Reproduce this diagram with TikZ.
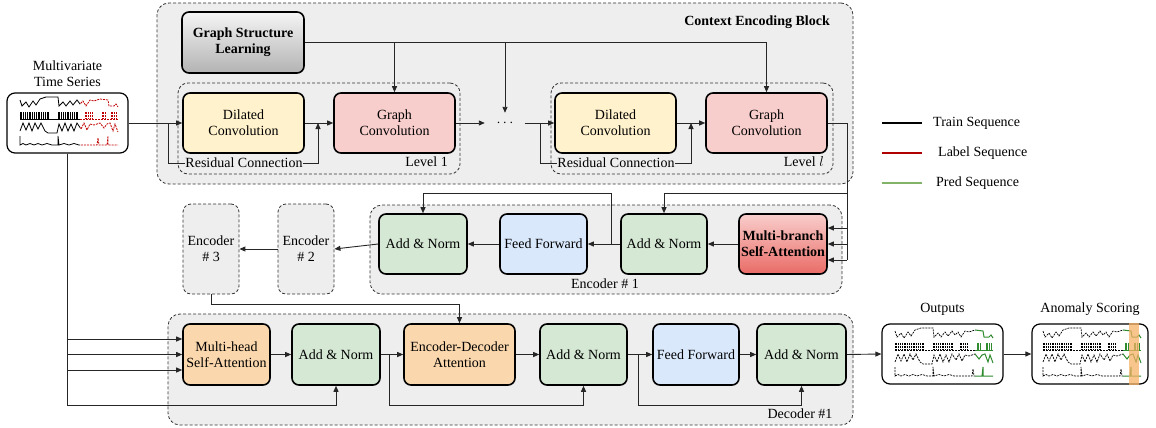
\documentclass[tikz,border=0pt]{standalone}
\usepackage{fontspec}
\setmainfont{Liberation Serif}
\usetikzlibrary{arrows.meta,calc}
\definecolor{cgray}{HTML}{EEEEEE}
\definecolor{cyel}{HTML}{FFF2CC}
\definecolor{cpink}{HTML}{F8CECC}
\definecolor{cred}{HTML}{EA6B66}
\definecolor{cgreen}{HTML}{D5E8D4}
\definecolor{cblue}{HTML}{DAE8FC}
\definecolor{corange}{HTML}{FAD7AC}
\definecolor{clabel}{HTML}{B00000}
\definecolor{cpred}{HTML}{82B366}
\definecolor{cgout}{HTML}{2E8B2E}
\definecolor{cband}{HTML}{F5B165}
\newcommand\tscurves[1]{%
  \draw[#1] plot coordinates {(13,7)(15,13)(19,9)(22,14)(26,8)(29,12)(33,6)(39,4)(51,4)(52,13)(56,9)(59,13)(63,8)(66,12)(70,7)(73,11)(76,8)(79,13)(83,7)(87,8)(93,6)(101,7)(102,13)(107,13)(109,11)(111,14)};
  \draw[#1] (13,26) -- (111,26);
  \foreach \x in {13,14.8,...,43,51,52.8,...,72,78,79.8,...,87,95,96.8,...,100,104,105.8,...,111} \draw[#1] (\x,19) -- (\x,26);
  \draw[#1] plot coordinates {(13,38)(16,30)(19,37)(22,30)(25,38)(28,30)(31,36)(34,30)(38,38)(41,40)(50,40)(52,31)(55,38)(58,30)(61,38)(64,31)(67,38)(70,30)(74,36)(77,30)(80,37)(83,31)(87,32)(93,30)(97,35)(100,31)(103,30)(106,38)(108,31)(111,39)};
  \draw[#1] plot coordinates {(13,43)(13,52)(16,50.5)(19,52)(23,50.5)(27,52)(31,50.5)(35,52)(40,50.5)(45,52)(51,52)(51,43)(52,52)(57,50.5)(62,52)(67,50.5)(72,52)(78,52)(90,52)(91,45)(92,52)(100,52)(101,43)(101,52)(111,52)};
}
\newcommand\tsplot[4]{%
  \begin{scope}[shift={#1}]
    \begin{scope}\clip (0,0) rectangle (#2,60); \tscurves{#3} \end{scope}
    \begin{scope}\clip (#2,0) rectangle (121,60); \tscurves{#4} \end{scope}
  \end{scope}}
\begin{document}
\begin{tikzpicture}[x=1pt,y=-1pt,
  font=\fontsize{14}{16}\selectfont,
  container/.style={draw=black!80, dash pattern=on 3pt off 2pt, fill=cgray, rounded corners=12pt, line width=0.8pt, inner sep=0pt},
  subbox/.style={draw=black!80, dash pattern=on 3pt off 2pt, fill=cgray, rounded corners=8pt, line width=0.8pt, align=center, inner sep=0pt},
  blk/.style={draw=black, line width=1.6pt, rounded corners=7pt, align=center, inner sep=1pt},
  conn/.style={draw=black!85, line width=0.9pt},
  arr/.style={conn, -{Triangle[length=6pt,width=5pt]}},
  lbl/.style={inner sep=1pt, align=center},
  series/.style={draw=black, line width=1.2pt, rounded corners=8pt, inner sep=0pt}
]
\useasboundingbox (0,0) rectangle (1156,428);

% containers
\node[container, minimum width=696pt, minimum height=181pt] (ctx) at (505,93.5) {};
\node[container, rounded corners=10pt, minimum width=282pt, minimum height=91pt] (lv1) at (319,128.5) {};
\node[container, rounded corners=10pt, minimum width=282pt, minimum height=91pt] (lvl) at (692,128.5) {};
\node[container, minimum width=472pt, minimum height=89pt] (encb) at (606,249.5) {};
\node[container, minimum width=685pt, minimum height=111pt] (decb) at (510.5,369.5) {};
\node[subbox, minimum width=56pt, minimum height=90pt] (enc2) at (306,249) {Encoder\\\# 2};
\node[subbox, minimum width=56pt, minimum height=90pt] (enc3) at (211,249) {Encoder\\\# 3};

\node[lbl, font=\fontsize{14}{16}\selectfont\bfseries, anchor=east] (ctxl) at (831,22) {Context Encoding Block};
\node[lbl, anchor=east] (lv1l) at (449,162) {Level 1};
\node[lbl, anchor=east] (lvll) at (825,162) {Level $l$};
\node[lbl] (encl) at (605,284) {Encoder \# 1};
\node[lbl] (decl) at (800,414) {Decoder \#1};

% nodes
\node[series, minimum width=121pt, minimum height=60pt] (ts) at (67.5,123) {};
\node[lbl] (tsl) at (67.5,74) {Multivariate\\Time Series};
\node[blk, top color=white!96!black, bottom color=black!30, minimum width=122pt, minimum height=61pt, font=\fontsize{14}{16}\selectfont\bfseries] (gsl) at (243,42.5) {Graph Structure\\Learning};
\node[blk, fill=cyel, minimum width=121pt, minimum height=60pt] (dc1) at (243.5,123) {Dilated\\Convolution};
\node[blk, fill=cpink, minimum width=121pt, minimum height=60pt] (gc1) at (394.5,123) {Graph\\Convolution};
\node[lbl, minimum width=40pt, minimum height=20pt] (dots) at (505,123) {$\cdots$};
\node[blk, fill=cyel, minimum width=121pt, minimum height=60pt] (dcl) at (615.5,123) {Dilated\\Convolution};
\node[blk, fill=cpink, minimum width=121pt, minimum height=60pt] (gcl) at (766.5,123) {Graph\\Convolution};

\node[blk, fill=cgreen, minimum width=88pt, minimum height=60pt] (an1e) at (423,244) {Add \& Norm};
\node[blk, fill=cblue, minimum width=87pt, minimum height=60pt] (ffe) at (543.5,244) {Feed Forward};
\node[blk, fill=cgreen, minimum width=86pt, minimum height=60pt] (an2e) at (664,244) {Add \& Norm};
\node[blk, top color=cpink, bottom color=cred, minimum width=88pt, minimum height=60pt, font=\fontsize{14}{16}\selectfont\bfseries] (mb) at (783,244) {Multi-branch\\Self-Attention};

\node[blk, fill=corange, minimum width=87pt, minimum height=61pt] (mhsa) at (226.5,354.5) {Multi-head\\Self-Attention};
\node[blk, fill=cgreen, minimum width=88pt, minimum height=61pt] (an1d) at (336,354.5) {Add \& Norm};
\node[blk, fill=corange, minimum width=111pt, minimum height=61pt] (eda) at (459.5,354.5) {Encoder-Decoder\\Attention};
\node[blk, fill=cgreen, minimum width=87pt, minimum height=61pt] (an2d) at (583.5,354.5) {Add \& Norm};
\node[blk, fill=cblue, minimum width=86pt, minimum height=61pt] (ffd) at (696,354.5) {Feed Forward};
\node[blk, fill=cgreen, minimum width=89pt, minimum height=61pt] (an3d) at (801.5,354.5) {Add \& Norm};

\node[series, minimum width=121pt, minimum height=60pt] (out) at (942.5,354) {};
\node[lbl] (outl) at (942.5,309) {Outputs};
\node[series, minimum width=116pt, minimum height=60pt] (ano) at (1090,354) {};
\node[lbl] (anol) at (1090,309) {Anomaly Scoring};

% series sketches
\tsplot{(7,93)}{73}{black, line width=0.8pt}{clabel!80!red, line width=0.8pt, dash pattern=on 2pt off 1pt}
\tsplot{(882,324)}{93}{black, line width=0.7pt, dash pattern=on 2pt off 1pt}{cgout, line width=1pt}
\tsplot{(1030,324)}{93}{black, line width=0.7pt, dash pattern=on 2pt off 1pt}{cgout, line width=1pt}
\fill[cband, opacity=0.75] (1129,323) rectangle (1139,385);

% context block connectors
\coordinate (r1s) at (168,123);
\coordinate (r1e) at (318,123);
\coordinate (rls) at (540,123);
\coordinate (rle) at (691,123);
\draw[arr] (ts.east) -- (dc1.west);
\draw[arr] (r1s) -- ++(0,40) -| (r1e);
\node[lbl, fill=cgray, inner sep=0.5pt] (rc1) at (244,163) {Residual Connection};
\draw[arr] (dc1.east) -- (gc1.west);
\draw[arr] (gsl.east) -| (gcl.north);
\draw[arr] (gsl.east -| gc1.north) -- (gc1.north);
\draw[arr] (gsl.east -| dots.north) -- (dots.north);
\draw[arr] (gc1.east) -- (dots.west);
\draw[arr] (dots.east) -- (dcl.west);
\draw[arr] (rls) -- ++(0,40) -| (rle);
\node[lbl, fill=cgray, inner sep=0.5pt] (rcl) at (616,163) {Residual Connection};
\draw[arr] (dcl.east) -- (gcl.west);

% context -> encoder
\coordinate (vT) at (847,193);
\coordinate (vA) at (847,228);
\coordinate (vB) at (847,244);
\coordinate (vC) at (847,260);
\draw[conn] (gcl.east) -| (vC);
\draw[arr] (vA) -- (vA -| mb.east);
\draw[arr] (vB) -- (vB -| mb.east);
\draw[arr] (vC) -- (vC -| mb.east);
\draw[arr] (vT) -| (an2e.north);
\draw[arr] (mb.west) -- (an2e.east);
\draw[arr] (an2e.west) -- (ffe.east);
\coordinate (rE) at (611,244);
\draw[arr] (rE) -- (611,193) -| (an1e.north);
\draw[arr] (ffe.west) -- (an1e.east);
\draw[arr] (an1e.west) -- (enc2.east);
\draw[arr] (enc2.west) -- (enc3.east);
\draw[arr] (enc3.south) -- ++(0,10) -| (eda.north);

% decoder
\coordinate (d1) at (67.5,339);
\coordinate (d2) at (67.5,354.5);
\coordinate (d3) at (67.5,370);
\draw[arr] (ts.south) |- ($(an1d.south)+(0,20)$) -- (an1d.south);
\draw[arr] (d1) -- (d1 -| mhsa.west);
\draw[arr] (d2) -- (d2 -| mhsa.west);
\draw[arr] (d3) -- (d3 -| mhsa.west);
\draw[arr] (mhsa.east) -- (an1d.west);
\draw[arr] (an1d.east) -- (eda.west);
\coordinate (r2) at (389,354.5);
\draw[arr] (r2) -- ++(0,50.5) -| (an2d.south);
\draw[arr] (eda.east) -- (an2d.west);
\draw[arr] (an2d.east) -- (ffd.west);
\coordinate (r3) at (638,354.5);
\draw[arr] (r3) -- ++(0,50.5) -| (an3d.south);
\draw[arr] (ffd.east) -- (an3d.west);
\draw[arr] (an3d.east) -- (out.west);
\draw[arr] (out.east) -- (ano.west);

% legend
\coordinate (la1) at (882,123); \coordinate (lb1) at (922,123);
\coordinate (la2) at (882,153); \coordinate (lb2) at (922,153);
\coordinate (la3) at (882,183); \coordinate (lb3) at (922,183);
\draw[line width=1.8pt, black] (la1) -- (lb1);
\draw[line width=1.8pt, clabel] (la2) -- (lb2);
\draw[line width=1.8pt, cpred] (la3) -- (lb3);
\node[lbl, anchor=west] (lt1) at (932,123) {Train Sequence};
\node[lbl, anchor=west] (lt2) at (937,153) {Label Sequence};
\node[lbl, anchor=west] (lt3) at (935,183) {Pred Sequence};
\end{tikzpicture}
\end{document}
